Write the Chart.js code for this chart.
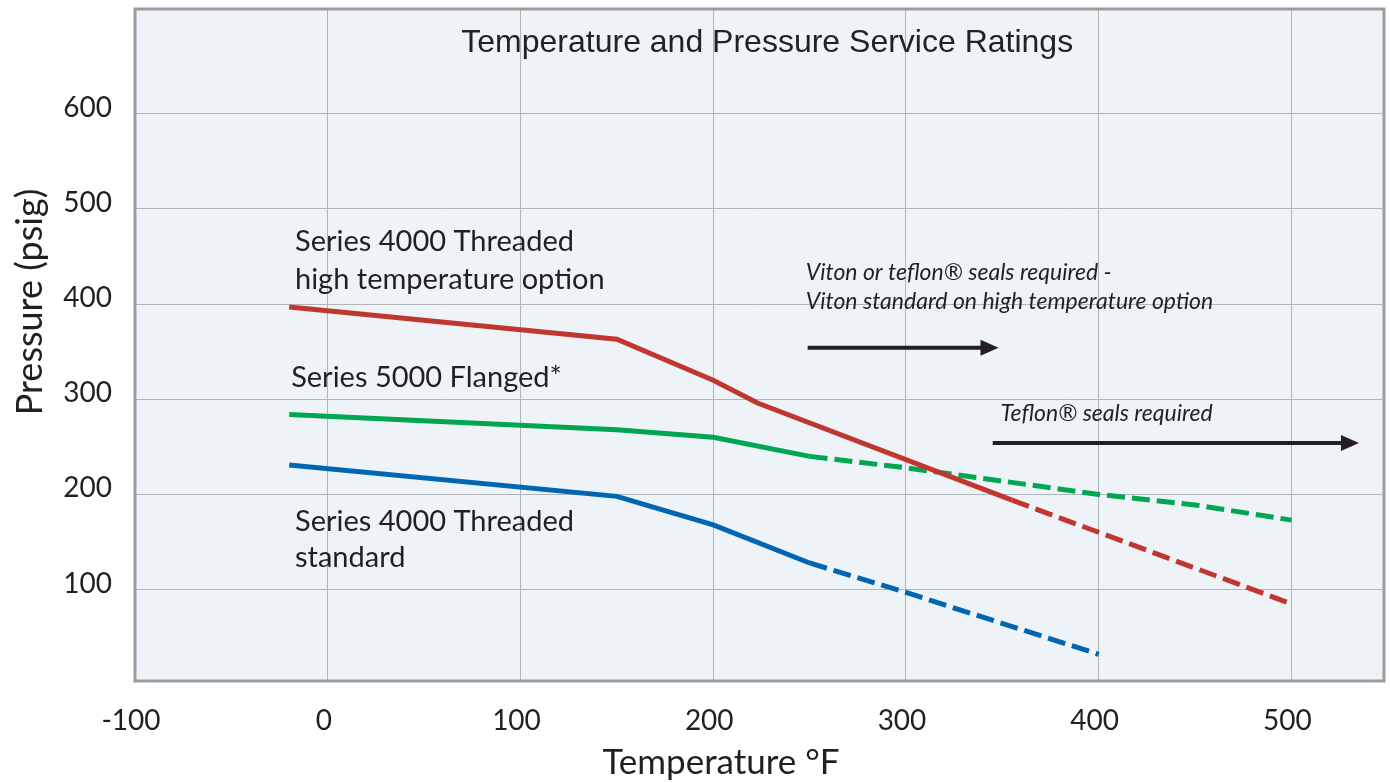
<!DOCTYPE html>
<html>
<head>
<meta charset="utf-8">
<title>Temperature and Pressure Service Ratings</title>
<script src="https://cdn.jsdelivr.net/npm/chart.js@4.4.1/dist/chart.umd.min.js"></script>
<style>
    html, body { margin: 0; padding: 0; background: #ffffff; }
    #wrap { width: 1390px; height: 783px; }
</style>
</head>
<body>
<div id="wrap"><canvas id="ratingsChart" width="1390" height="783"></canvas></div>
<script>
// Series values (temperature in °F, pressure in psig)
const hiTempTemps = [-20, 150, 200, 223, 355, 500];
const hiTempPsig = [397, 363, 320, 296, 194, 85];
const flangedTemps = [-20, 150, 200, 250, 300, 400, 450, 500];
const flangedPsig = [284, 268, 260, 240, 228, 200, 189, 173];
const standardTemps = [-20, 150, 200, 250, 300, 400];
const standardPsig = [231, 198, 168, 128, 97, 32];

// where each rating line turns dashed
const dashFrom = { hiTemp: 355, flanged: 250, standard: 250 };

const xTicks = [-100, 0, 100, 200, 300, 400, 500];
const yTicks = [100, 200, 300, 400, 500, 600];

const TEXT = "#231f20";
const LABEL_FONT = "Lato, 'Open Sans', sans-serif";

function toPoints(xs, ys) {
    return xs.map((x, i) => ({ x: x, y: ys[i] }));
}

function ratingLine(label, xs, ys, color, from) {
    return {
        label: label,
        data: toPoints(xs, ys),
        showLine: true,
        borderColor: color,
        backgroundColor: color,
        borderWidth: 5,
        pointRadius: 0,
        tension: 0,
        segment: {
            borderDash: ctx => (ctx.p0.parsed.x >= from ? [18, 7] : undefined),
        },
    };
}

// text and arrows placed in data units
const labels = [
    { text: "Series 4000 Threaded", x: -17, y: 466, size: 29 },
    { text: "high temperature option", x: -17, y: 426, size: 29 },
    { text: "Series 5000 Flanged*", x: -19, y: 323, size: 29 },
    { text: "Series 4000 Threaded", x: -17, y: 171, size: 29 },
    { text: "standard", x: -17, y: 134, size: 29 },
    { text: "Viton or teflon® seals required -", x: 248, y: 433, size: 23, italic: true },
    { text: "Viton standard on high temperature option", x: 248, y: 403, size: 23, italic: true },
    { text: "Teflon® seals required", x: 349, y: 285, size: 23, italic: true },
];
const arrows = [
    { from: 249, to: 348, y: 354 },
    { from: 345, to: 535, y: 254 },
];

const decor = {
    id: "decor",
    beforeDraw(chart) {
        const { ctx, chartArea: a } = chart;
        ctx.save();
        ctx.fillStyle = "#eef3f8";
        ctx.fillRect(a.left, a.top, a.right - a.left, a.bottom - a.top);
        ctx.restore();
    },
    afterDraw(chart) {
        const { ctx, chartArea: a } = chart;
        const xs = chart.scales.x;
        const ys = chart.scales.y;
        ctx.save();

        // plot frame
        ctx.strokeStyle = "#9a9c9e";
        ctx.lineWidth = 3;
        ctx.strokeRect(a.left, a.top, a.right - a.left, a.bottom - a.top);

        // title inside plot
        ctx.fillStyle = "#222222";
        ctx.font = "32px 'Liberation Sans', Arial, sans-serif";
        ctx.textAlign = "center";
        ctx.textBaseline = "middle";
        ctx.fillText("Temperature and Pressure Service Ratings", xs.getPixelForValue(228), ys.getPixelForValue(674));

        // series labels and notes
        ctx.textAlign = "left";
        ctx.fillStyle = TEXT;
        labels.forEach(l => {
            ctx.font = (l.italic ? "italic " : "") + l.size + "px " + LABEL_FONT;
            ctx.fillText(l.text, xs.getPixelForValue(l.x), ys.getPixelForValue(l.y));
        });

        // arrows
        ctx.strokeStyle = "#231f20";
        ctx.fillStyle = "#231f20";
        ctx.lineWidth = 4;
        arrows.forEach(ar => {
            const x0 = xs.getPixelForValue(ar.from);
            const x1 = xs.getPixelForValue(ar.to);
            const y = ys.getPixelForValue(ar.y);
            ctx.beginPath();
            ctx.moveTo(x0, y);
            ctx.lineTo(x1 - 12, y);
            ctx.stroke();
            ctx.beginPath();
            ctx.moveTo(x1, y);
            ctx.lineTo(x1 - 18, y - 8);
            ctx.lineTo(x1 - 18, y + 8);
            ctx.closePath();
            ctx.fill();
        });

        // axis titles
        ctx.fillStyle = TEXT;
        ctx.font = "35px " + LABEL_FONT;
        ctx.textAlign = "center";
        ctx.fillText("Temperature °F", 721, 763);
        ctx.font = "36px " + LABEL_FONT;
        ctx.translate(30, 302);
        ctx.rotate(-Math.PI / 2);
        ctx.fillText("Pressure (psig)", 0, 0);
        ctx.restore();
    },
};

const ctx = document.getElementById("ratingsChart").getContext("2d");

new Chart(ctx, {
    type: "scatter",
    data: {
        datasets: [
            ratingLine("Series 4000 Threaded high temperature option", hiTempTemps, hiTempPsig, "#c1372f", dashFrom.hiTemp),
            ratingLine("Series 5000 Flanged*", flangedTemps, flangedPsig, "#00a651", dashFrom.flanged),
            ratingLine("Series 4000 Threaded standard", standardTemps, standardPsig, "#0066b3", dashFrom.standard),
        ],
    },
    options: {
        responsive: false,
        animation: false,
        devicePixelRatio: 1,
        layout: {
            padding: { top: 9, right: 6, left: 0, bottom: 0 },
        },
        plugins: {
            legend: { display: false },
            tooltip: { enabled: false },
        },
        scales: {
            x: {
                type: "linear",
                min: -100,
                max: 548,
                afterBuildTicks: scale => {
                    scale.ticks = xTicks.map(v => ({ value: v }));
                },
                afterFit: scale => {
                    scale.height = 102;
                    scale.paddingLeft = 0;
                    scale.paddingRight = 0;
                },
                border: { display: false },
                grid: {
                    color: "#b1b4b8",
                    lineWidth: 1,
                    drawTicks: false,
                },
                ticks: {
                    color: TEXT,
                    font: { family: LABEL_FONT, size: 28 },
                    padding: 23,
                    labelOffset: -4,
                    maxRotation: 0,
                },
            },
            y: {
                type: "linear",
                min: 4,
                max: 710,
                afterBuildTicks: scale => {
                    scale.ticks = yTicks.map(v => ({ value: v }));
                },
                afterFit: scale => {
                    scale.width = 135;
                    scale.paddingTop = 0;
                    scale.paddingBottom = 0;
                },
                border: { display: false },
                grid: {
                    color: "#b1b4b8",
                    lineWidth: 1,
                    drawTicks: false,
                },
                ticks: {
                    color: TEXT,
                    font: { family: LABEL_FONT, size: 28 },
                    padding: 23,
                    labelOffset: -6,
                },
            },
        },
    },
    plugins: [decor],
});
</script>
</body>
</html>
